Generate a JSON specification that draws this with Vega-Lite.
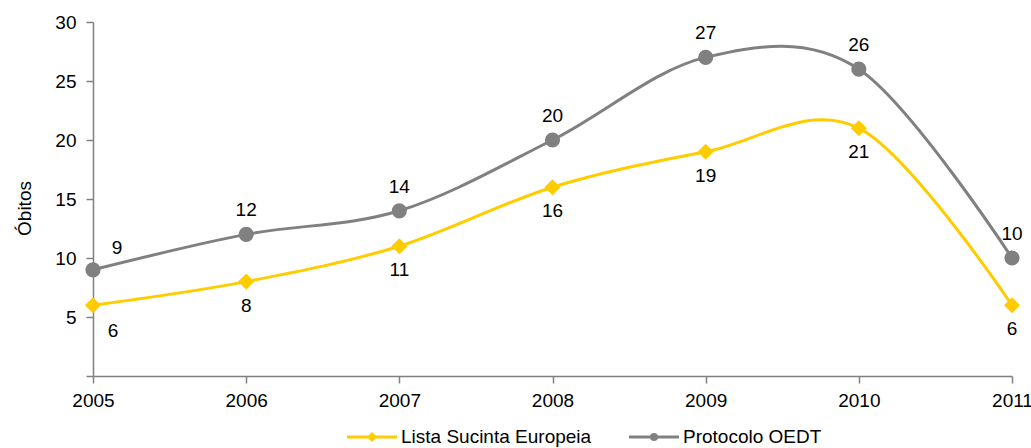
{
  "$schema": "https://vega.github.io/schema/vega-lite/v6.json",
  "width": 919,
  "height": 354,
  "autosize": {"type": "none"},
  "padding": {"left": 93, "top": 22, "right": 19, "bottom": 72},
  "background": "white",
  "config": {
    "view": {"stroke": null},
    "font": "Liberation Sans",
    "axis": {
      "domainColor": "#808080",
      "domainWidth": 1.5,
      "tickColor": "#808080",
      "tickWidth": 1.5,
      "tickSize": 7,
      "grid": false,
      "labelFont": "Liberation Sans",
      "labelFontSize": 19,
      "labelColor": "#000000",
      "titleFont": "Liberation Sans",
      "titleFontSize": 19,
      "titleFontWeight": "normal",
      "titleColor": "#000000"
    }
  },
  "data": {
    "values": [
      {"ano": 2005, "serie": "Lista Sucinta Europeia", "obitos": 6},
      {"ano": 2006, "serie": "Lista Sucinta Europeia", "obitos": 8},
      {"ano": 2007, "serie": "Lista Sucinta Europeia", "obitos": 11},
      {"ano": 2008, "serie": "Lista Sucinta Europeia", "obitos": 16},
      {"ano": 2009, "serie": "Lista Sucinta Europeia", "obitos": 19},
      {"ano": 2010, "serie": "Lista Sucinta Europeia", "obitos": 21},
      {"ano": 2011, "serie": "Lista Sucinta Europeia", "obitos": 6},
      {"ano": 2005, "serie": "Protocolo OEDT", "obitos": 9},
      {"ano": 2006, "serie": "Protocolo OEDT", "obitos": 12},
      {"ano": 2007, "serie": "Protocolo OEDT", "obitos": 14},
      {"ano": 2008, "serie": "Protocolo OEDT", "obitos": 20},
      {"ano": 2009, "serie": "Protocolo OEDT", "obitos": 27},
      {"ano": 2010, "serie": "Protocolo OEDT", "obitos": 26},
      {"ano": 2011, "serie": "Protocolo OEDT", "obitos": 10}
    ]
  },
  "encoding": {
    "x": {
      "field": "ano",
      "type": "quantitative",
      "scale": {"domain": [2005, 2011], "nice": false, "zero": false},
      "axis": {
        "title": null,
        "values": [2005, 2006, 2007, 2008, 2009, 2010, 2011],
        "format": "d",
        "labelPadding": 8,
        "labelFlush": false,
        "labelOverlap": false,
        "labelBound": false
      }
    },
    "y": {
      "field": "obitos",
      "type": "quantitative",
      "scale": {"domain": [0, 30], "nice": false},
      "axis": {
        "title": "Óbitos",
        "values": [0, 5, 10, 15, 20, 25, 30],
        "labelExpr": "datum.value == 0 ? '' : datum.label",
        "labelPadding": 10,
        "titleX": -69,
        "titleY": 186,
        "titleAngle": -90,
        "titleAlign": "center",
        "titleBaseline": "middle"
      }
    }
  },
  "layer": [
    {
      "mark": {"type": "line", "interpolate": "cardinal", "tension": 0, "strokeWidth": 3},
      "encoding": {
        "color": {
          "field": "serie",
          "type": "nominal",
          "scale": {"domain": ["Lista Sucinta Europeia", "Protocolo OEDT"], "range": ["#FFCC00", "#808080"]},
          "legend": {
            "orient": "none",
            "direction": "horizontal",
            "title": null,
            "legendX": 265,
            "legendY": 401,
            "symbolSize": 625,
            "labelFontSize": 19,
            "labelFont": "Liberation Sans",
            "labelColor": "#000000",
            "labelLimit": 400,
            "labelOffset": 15,
            "columnPadding": 31,
            "symbolStrokeWidth": 3,
            "encode": {
              "symbols": {
                "update": {
                  "shape": {"signal": "datum.value === 'Lista Sucinta Europeia' ? 'M-2,0L2,0M0,-0.24L0.24,0L0,0.24L-0.24,0Z' : 'M-2,0L2,0M0.2,0A0.2,0.2,0,1,1,-0.2,0A0.2,0.2,0,1,1,0.2,0Z'"},
                  "size": {"value": 625},
                  "strokeWidth": {"value": 3},
                  "stroke": {"signal": "scale('color', datum.value)"},
                  "fill": {"signal": "scale('color', datum.value)"},
                  "fillOpacity": {"value": 1},
                  "opacity": {"value": 1}
                }
              }
            }
          }
        }
      }
    },
    {
      "transform": [{"filter": "datum.serie == 'Lista Sucinta Europeia'"}],
      "mark": {"type": "point", "filled": true, "opacity": 1, "shape": "diamond", "size": 260},
      "encoding": {
        "color": {"field": "serie", "type": "nominal", "legend": null}
      }
    },
    {
      "transform": [{"filter": "datum.serie == 'Protocolo OEDT'"}],
      "mark": {"type": "point", "filled": true, "opacity": 1, "shape": "circle", "size": 230},
      "encoding": {
        "color": {"field": "serie", "type": "nominal", "legend": null}
      }
    },
    {
      "transform": [{"filter": "datum.serie == 'Protocolo OEDT' && datum.ano > 2005"}],
      "mark": {"type": "text", "dy": -24, "fontSize": 19, "font": "Liberation Sans", "color": "#000000", "baseline": "middle"},
      "encoding": {"text": {"field": "obitos", "type": "quantitative"}}
    },
    {
      "transform": [{"filter": "datum.serie == 'Protocolo OEDT' && datum.ano == 2005"}],
      "mark": {"type": "text", "dx": 24, "dy": -22, "fontSize": 19, "font": "Liberation Sans", "color": "#000000", "baseline": "middle"},
      "encoding": {"text": {"field": "obitos", "type": "quantitative"}}
    },
    {
      "transform": [{"filter": "datum.serie == 'Lista Sucinta Europeia' && datum.ano > 2005"}],
      "mark": {"type": "text", "dy": 24, "fontSize": 19, "font": "Liberation Sans", "color": "#000000", "baseline": "middle"},
      "encoding": {"text": {"field": "obitos", "type": "quantitative"}}
    },
    {
      "transform": [{"filter": "datum.serie == 'Lista Sucinta Europeia' && datum.ano == 2005"}],
      "mark": {"type": "text", "dx": 20, "dy": 26, "fontSize": 19, "font": "Liberation Sans", "color": "#000000", "baseline": "middle"},
      "encoding": {"text": {"field": "obitos", "type": "quantitative"}}
    }
  ]
}
